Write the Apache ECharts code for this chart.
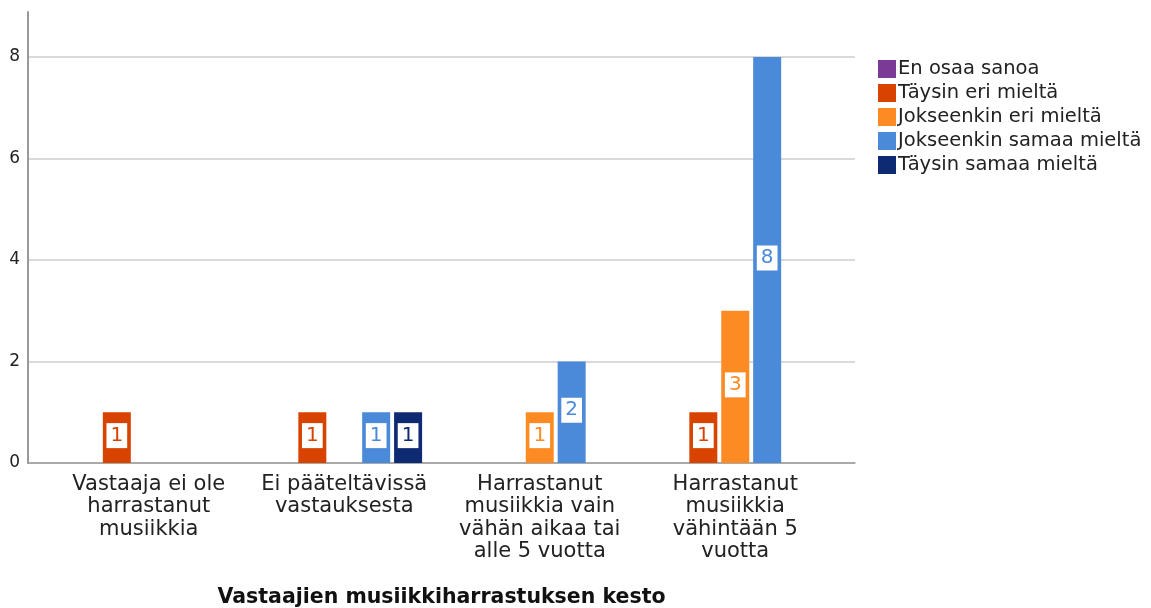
<!DOCTYPE html>
<html>
<head>
<meta charset="utf-8">
<script src="https://cdn.jsdelivr.net/npm/echarts@6/dist/echarts.min.js"></script>
<style>
html,body{margin:0;padding:0;background:#fff;}
#main{width:1151px;height:608px;}
</style>
</head>
<body>
<div id="main"></div>
<script>
// data
var categories = [
  'Vastaaja ei ole\nharrastanut\nmusiikkia',
  'Ei pääteltävissä\nvastauksesta',
  'Harrastanut\nmusiikkia vain\nvähän aikaa tai\nalle 5 vuotta',
  'Harrastanut\nmusiikkia\nvähintään 5\nvuotta'
];
var seriesNames = ['En osaa sanoa', 'Täysin eri mieltä', 'Jokseenkin eri mieltä', 'Jokseenkin samaa mieltä', 'Täysin samaa mieltä'];
var enOsaa = [null, null, null, null];
var taysinEri = [1, 1, null, 1];
var jokseenkinEri = [null, null, 1, 3];
var jokseenkinSamaa = [null, 1, 2, 8];
var taysinSamaa = [null, 1, null, null];
var yTicks = [0, 2, 4, 6, 8];
var colors = ['#7a3a96', '#d84300', '#fd8b24', '#4a8ad9', '#0d2a72'];

var font = 'DejaVu Sans';
var values = [enOsaa, taysinEri, jokseenkinEri, jokseenkinSamaa, taysinSamaa];

var chart = echarts.init(document.getElementById('main'));

var series = seriesNames.map(function (name, i) {
  return {
    name: name,
    type: 'bar',
    xAxisIndex: 2,
    yAxisIndex: 2,
    barWidth: 28,
    barGap: '14%',
    data: values[i],
    itemStyle: { color: colors[i] },
    label: {
      show: true,
      position: 'inside',
      offset: [0, -2],
      color: colors[i],
      backgroundColor: '#fff',
      padding: [3, 4, 2, 4],
      fontSize: 20,
      fontFamily: font
    }
  };
});

var option = {
  animation: false,
  color: colors,
  legend: {
    orient: 'vertical',
    left: 873,
    top: 54,
    icon: 'rect',
    itemWidth: 18,
    itemHeight: 18,
    itemGap: 4,
    textStyle: { fontSize: 19.5, fontFamily: font, color: '#222', padding: [0, 0, 0, -3] },
    data: seriesNames
  },
  grid: [
    { left: 28, right: 296, top: 12, bottom: 145, outerBoundsMode: 'none' },
    { left: 28, right: 296, top: 57, bottom: 145, outerBoundsMode: 'none' },
    { left: 51, right: 318, top: 57, bottom: 145, outerBoundsMode: 'none' }
  ],
  xAxis: [
    {
      gridIndex: 0,
      type: 'category',
      data: categories,
      axisLine: { show: true, lineStyle: { color: '#999', width: 1.5 } },
      axisTick: { show: false },
      axisLabel: { show: false },
      name: 'Vastaajien musiikkiharrastuksen kesto',
      nameLocation: 'middle',
      nameGap: 124,
      nameTextStyle: { fontSize: 20.5, fontWeight: 'bold', fontFamily: font, color: '#111' }
    },
    { gridIndex: 1, type: 'category', data: categories, show: false },
    {
      gridIndex: 2,
      type: 'category',
      data: categories,
      axisLine: { show: false },
      axisTick: { show: false },
      axisLabel: {
        interval: 0,
        margin: 10,
        fontSize: 21,
        lineHeight: 22.5,
        fontFamily: font,
        color: '#222',
        align: 'center'
      }
    }
  ],
  yAxis: [
    {
      gridIndex: 0,
      type: 'value',
      min: 0,
      max: 8.9,
      axisLine: { show: true, lineStyle: { color: '#999', width: 2 } },
      axisTick: { show: false },
      axisLabel: { show: false },
      splitLine: { show: false }
    },
    {
      gridIndex: 1,
      type: 'value',
      min: yTicks[0],
      max: yTicks[yTicks.length - 1],
      interval: 2,
      axisLine: { show: false },
      axisTick: { show: false },
      axisLabel: { fontSize: 17, fontFamily: font, color: '#222', margin: 8 },
      splitLine: { lineStyle: { color: '#ccc', width: 1.5 } }
    },
    {
      gridIndex: 2,
      type: 'value',
      min: yTicks[0],
      max: yTicks[yTicks.length - 1],
      show: false
    }
  ],
  series: series
};

chart.setOption(option);
</script>
</body>
</html>
